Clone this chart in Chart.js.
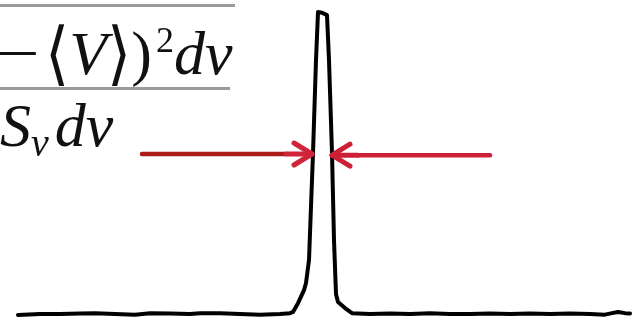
<!DOCTYPE html>
<html>
<head>
<meta charset="utf-8">
<script src="https://cdn.jsdelivr.net/npm/chart.js@4"></script>
<style>
  html, body { margin: 0; padding: 0; background: #fff; }
  #wrap { position: relative; width: 637px; height: 321px; overflow: hidden; }
  #lineChart { display: block; }
  .rule { position: absolute; left: 0; height: 3px; background: #9a9a9a; }
  .row { position: absolute; white-space: nowrap; font-size: 62px; line-height: 1;
         font-family: "Liberation Serif", "DejaVu Serif", serif; color: #111; }
  .row sup { font-size: 36px; vertical-align: 0; position: relative; top: -22px; margin-left: 4px; }
  .row sub { font-size: 40px; vertical-align: 0; position: relative; top: 10px; margin-right: 6px; }
  .minus { display: inline-block; transform: scaleX(1.7); transform-origin: right center; margin-right: 4px; }
  .br { display: inline-block; transform: scaleY(1.12); }
</style>
</head>
<body>
<div id="wrap">
  <canvas id="lineChart" width="637" height="321"></canvas>
  <div class="rule" style="top:4px;width:235px"></div>
  <div class="row" style="left:6px;top:22px"><span class="minus">−</span><span class="br">⟨</span><i>V</i><span class="br">⟩</span>)<sup>2</sup><i>dv</i></div>
  <div class="rule" style="top:87px;width:230px"></div>
  <div class="row" style="left:0;top:94px"><i>S<sub>v</sub>dv</i></div>
</div>
<script>
// line profile: velocity (km/s) and normalised flux
const velocity = [-30.2, -28.0, -26.0, -24.0, -22.5, -20.5, -18.5, -17.0, -15.0, -13.0,
  -12.0, -10.0, -8.0, -6.0, -4.0, -3.0, -2.7, -2.2, -1.6, -1.4, -1.1, -0.7, -0.4, -0.2,
  0.2, 0.7, 0.9, 1.2, 1.4, 1.6, 1.8, 2.5, 3.2, 5.0, 7.0, 9.0, 11.0, 13.0, 15.0, 17.0,
  19.0, 21.0, 23.0, 25.0, 27.0, 28.5, 29.2, 29.8, 30.5, 31.0];
const flux = [-0.003, 0, 0, 0.002, 0.003, 0, -0.002, 0.003, 0.002, 0,
  0.003, 0.003, 0, -0.002, 0, 0.003, 0.007, 0.036, 0.079, 0.103, 0.179, 0.533, 0.841, 1.0,
  0.998, 0.990, 0.841, 0.533, 0.245, 0.066, 0.040, 0.020, 0.003, 0, 0.002, 0, 0.003, 0, 0, 0.002,
  0, 0.002, 0, 0.002, 0, -0.002, 0.003, 0.007, 0.003, 0.002];

// width markers: arrows pointing in at the half-height of the line
const arrowTail = [-17.8, 17.0];
const arrowTip = [-0.8, 1.2];
const arrowFlux = [0.530, 0.526];
const arrowShaftColor = ['#ad1a1a', '#cd2036'];
const arrowHeadColor = ['#d0243a', '#cd2036'];

const arrows = {
  id: 'arrows',
  afterDatasetsDraw(chart) {
    const ctx = chart.ctx, xs = chart.scales.x, ys = chart.scales.y;
    ctx.save();
    ctx.lineCap = 'round';
    ctx.lineJoin = 'round';
    for (let i = 0; i < arrowTail.length; i++) {
      const x0 = xs.getPixelForValue(arrowTail[i]);
      const x1 = xs.getPixelForValue(arrowTip[i]);
      const y = ys.getPixelForValue(arrowFlux[i]);
      const dir = Math.sign(x1 - x0);
      ctx.strokeStyle = arrowShaftColor[i];
      ctx.lineWidth = 4.5;
      ctx.beginPath();
      ctx.moveTo(x0, y);
      ctx.lineTo(x1 - dir * 26, y);
      ctx.stroke();
      ctx.strokeStyle = arrowHeadColor[i];
      ctx.lineWidth = 5;
      ctx.beginPath();
      ctx.moveTo(x1 - dir * 18, y - 11);
      ctx.lineTo(x1, y);
      ctx.lineTo(x1 - dir * 18, y + 11);
      ctx.stroke();
      ctx.beginPath();
      ctx.moveTo(x1 - dir * 26, y);
      ctx.lineTo(x1, y);
      ctx.stroke();
    }
    ctx.restore();
  }
};

new Chart(document.getElementById('lineChart'), {
  type: 'line',
  data: {
    datasets: [{
      data: velocity.map((v, i) => ({ x: v, y: flux[i] })),
      borderColor: '#000',
      borderWidth: 4,
      pointRadius: 0,
      tension: 0,
      fill: false
    }]
  },
  options: {
    responsive: false,
    animation: false,
    layout: { padding: 0 },
    plugins: { legend: { display: false }, tooltip: { enabled: false } },
    elements: { line: { borderJoinStyle: 'round', borderCapStyle: 'round' } },
    scales: {
      x: { type: 'linear', display: false, min: -32, max: 31.7 },
      y: { display: false, min: -0.023, max: 1.04 }
    }
  },
  plugins: [arrows]
});
</script>
</body>
</html>
